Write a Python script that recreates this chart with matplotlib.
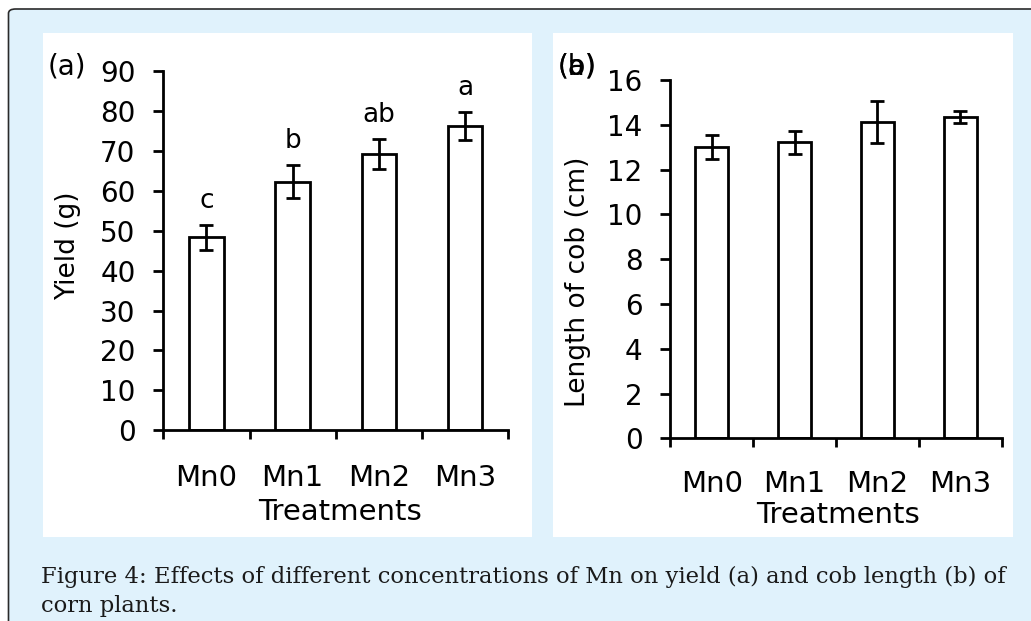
import matplotlib
matplotlib.use("Agg")
import matplotlib.pyplot as plt
from matplotlib.patches import FancyBboxPatch, Rectangle

treatments = ["Mn0", "Mn1", "Mn2", "Mn3"]
yield_g = [48.3, 62.3, 69.2, 76.2]
yield_err = [3.2, 4.2, 3.75, 3.6]
yield_letters = ["c", "b", "ab", "a"]
cob_cm = [13.0, 13.21, 14.12, 14.36]
cob_err = [0.54, 0.52, 0.95, 0.26]
yield_ticks = list(range(0, 91, 10))
cob_ticks = list(range(0, 17, 2))
caption_lines = [
    "Figure 4: Effects of different concentrations of Mn on yield (a) and cob length (b) of",
    "corn plants.",
]

W, H = 1031, 621
fig = plt.figure(figsize=(W / 100, H / 100), dpi=100)
fig.patch.set_facecolor("white")

def px(x, y):
    return x / W, 1 - y / H

# outer rounded box (cut off on right and bottom)
box = FancyBboxPatch((8.5 / W, -20 / H), (W + 30) / W, (H + 20 - 9) / H,
                     boxstyle="round,pad=0,rounding_size=0.007",
                     transform=fig.transFigure, facecolor="#E0F2FC",
                     edgecolor="#2a2a2a", linewidth=1.2, zorder=-3)
fig.patches.append(box)
# white panels
for (x0, y0, x1, y1) in [(42.7, 32.7, 531.7, 536.7), (552.7, 33.3, 1012.7, 536.7)]:
    fig.patches.append(Rectangle((x0 / W, 1 - y1 / H), (x1 - x0) / W, (y1 - y0) / H,
                                 transform=fig.transFigure, facecolor="white",
                                 edgecolor="none", zorder=-2))

FONT = "DejaVu Sans"
LW = 2.0

def make_panel(left, right, y0px, ytoppx, values, errs, ymax, yticks, ylabel,
               ylabel_xy, xl_pad, treat_xy):
    ax = fig.add_axes([left / W, 1 - y0px / H, (right - left) / W, (y0px - ytoppx) / H])
    ax.set_facecolor("none")
    ax.set_zorder(2)
    xs = [i + 0.5 for i in range(len(values))]
    ax.bar(xs, values, width=0.4, color="white", edgecolor="black", linewidth=LW, zorder=2)
    ax.errorbar(xs, values, yerr=errs, fmt="none", ecolor="black", elinewidth=LW,
                capsize=4.7, capthick=LW, zorder=3)
    ax.set_xlim(0, len(values))
    ax.set_ylim(0, ymax)
    ax.set_yticks(yticks)
    ax.set_yticklabels([str(t) for t in yticks], fontsize=20, family=FONT)
    ax.tick_params(axis="y", direction="out", length=7, width=LW, pad=13)
    ax.set_xticks(range(len(values) + 1))
    ax.set_xticklabels([""] * (len(values) + 1))
    ax.tick_params(axis="x", which="major", direction="out", length=6.5, width=LW)
    ax.set_xticks(xs, minor=True)
    ax.set_xticklabels(treatments, minor=True, fontsize=21, family=FONT)
    ax.tick_params(axis="x", which="minor", length=0, pad=xl_pad)
    for s in ["top", "right"]:
        ax.spines[s].set_visible(False)
    for s in ["left", "bottom"]:
        ax.spines[s].set_linewidth(LW)
    ax.spines["bottom"].set_zorder(4)
    fig.text(*px(*ylabel_xy), ylabel, rotation=90, ha="center", va="center",
             fontsize=19, family=FONT)
    fig.text(*px(*treat_xy), "Treatments", ha="center", va="center",
             fontsize=21, family=FONT)
    return ax, xs

ax1, xs1 = make_panel(163.3, 508.3, 430.3, 71, yield_g, yield_err, 90, yield_ticks,
                      "Yield (g)", (68, 246), 24, (340, 512))
for x, v, e, lab in zip(xs1, yield_g, yield_err, yield_letters):
    ax1.annotate(lab, (x, v + e), xytext=(0, 8), textcoords="offset points",
                 ha="center", va="bottom", fontsize=19, family=FONT)
fig.text(*px(48, 66), "(a)", ha="left", va="center", fontsize=20, family=FONT)

ax2, xs2 = make_panel(670.3, 1001.7, 438.3, 80, cob_cm, cob_err, 16, cob_ticks,
                      "Length of cob (cm)", (578, 282), 23, (838, 515))
fig.text(*px(558, 66), "(b)", ha="left", va="center", fontsize=20, family=FONT)
fig.text(*px(558, 66), "(a)", ha="left", va="center", fontsize=20, family=FONT)

fig.text(*px(40.7, 583), caption_lines[0], ha="left", va="baseline",
         fontsize=16.3, family="DejaVu Serif", color="#1a1a1a")
fig.text(*px(40.7, 612), caption_lines[1], ha="left", va="baseline",
         fontsize=16.3, family="DejaVu Serif", color="#1a1a1a")

fig.savefig("out.png", dpi=100)
